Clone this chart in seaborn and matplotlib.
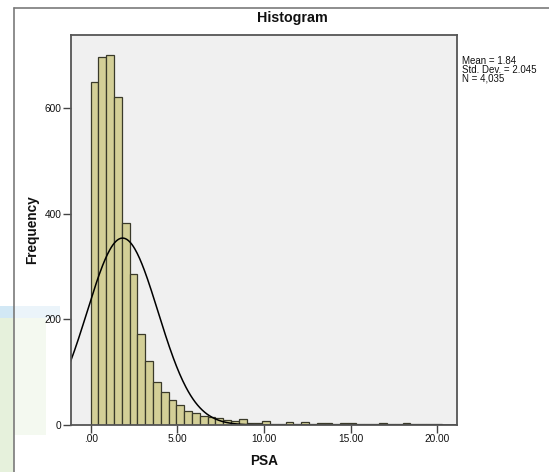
import numpy as np
import pandas as pd
import matplotlib
matplotlib.use("Agg")
import matplotlib.pyplot as plt
import seaborn as sns
from matplotlib.patches import Rectangle
from matplotlib.lines import Line2D

# ---- data ----
bin_start = 0.0
bin_width = 0.45
counts = [649, 697, 702, 621, 382, 287, 172, 122, 82, 63,
          47, 38, 27, 22, 18, 16, 14, 10, 8, 11,
          4, 3, 7, 2, 2, 5, 2, 5, 2, 3,
          3, 1, 4, 3, 1, 1, 1, 3, 1, 1,
          4, 1, 1, 1, 1]
mean_psa = 1.84
sd_psa = 2.045
n_psa = 4035
x_ticks = [0, 5, 10, 15, 20]
x_tick_labels = [".00", "5.00", "10.00", "15.00", "20.00"]
y_ticks = [0, 200, 400, 600]
stats_lines = ["Mean = 1.84", "Std. Dev. = 2.045", "N = 4,035"]

edges = [bin_start + bin_width * i for i in range(len(counts) + 1)]
centers = [(edges[i] + edges[i + 1]) / 2 for i in range(len(counts))]
df = pd.DataFrame({"PSA": centers, "count": counts})

sns.set_style("white")
plt.rcParams["font.family"] = ["Liberation Sans", "DejaVu Sans"]

W, H = 549, 472
fig = plt.figure(figsize=(W / 100, H / 100), dpi=100)
fig.patch.set_facecolor("white")

# faint watermark at left edge of screenshot
fig.patches.append(Rectangle((0, 1 - 472 / H), 14 / W, (472 - 318) / H, transform=fig.transFigure,
                             facecolor="#e6f1dc", edgecolor="none", zorder=-5))
fig.patches.append(Rectangle((0, 1 - 318 / H), 14 / W, 12 / H, transform=fig.transFigure,
                             facecolor="#d2e8f5", edgecolor="none", zorder=-5))
fig.patches.append(Rectangle((14 / W, 1 - 435 / H), 32 / W, (435 - 318) / H, transform=fig.transFigure,
                             facecolor="#f4f9f0", edgecolor="none", zorder=-5))
fig.patches.append(Rectangle((14 / W, 1 - 318 / H), 46 / W, 12 / H, transform=fig.transFigure,
                             facecolor="#ebf4fa", edgecolor="none", zorder=-5))

# outer chart frame
frame_col = "#7a7a7a"
fig.lines.append(Line2D([14 / W, 14 / W], [0, 1 - 8 / H], transform=fig.transFigure,
                        color=frame_col, lw=1.2))
fig.lines.append(Line2D([14 / W, 1], [1 - 8 / H, 1 - 8 / H], transform=fig.transFigure,
                        color=frame_col, lw=1.2))

ax = fig.add_axes([70.5 / W, 1 - 425 / H, (457 - 70.5) / W, (425 - 35) / H])
ax.set_facecolor("#f0f0f0")

sns.histplot(data=df, x="PSA", weights="count", bins=edges, ax=ax,
             color="#d3cf97", edgecolor="#3a3a2a", linewidth=0.9, alpha=1.0)

xs = np.linspace(-1.3, 21.3, 500)
ys = n_psa * bin_width / (sd_psa * np.sqrt(2 * np.pi)) * np.exp(-0.5 * ((xs - mean_psa) / sd_psa) ** 2)
sns.lineplot(x=xs, y=ys, ax=ax, color="black", linewidth=1.1)

ax.set_xlim(-1.165, 21.14)
ax.set_ylim(0, 739)
ax.set_xticks(x_ticks)
ax.set_xticklabels(x_tick_labels)
ax.set_yticks(y_ticks)
ax.tick_params(axis="both", which="major", bottom=True, left=True, direction="out",
               length=5.5, width=1, color="#444444",
               labelsize=7.3, pad=1.2, labelcolor="#111111")
for s in ax.spines.values():
    s.set_visible(True)
    s.set_color("#555555")
    s.set_linewidth(1.3)

ax.set_xlabel("PSA", fontsize=9.8, fontweight="bold", labelpad=7, color="#111111")
ax.set_ylabel("Frequency", fontsize=9.8, fontweight="bold", labelpad=4, color="#111111")

fig.text(292 / W, 1 - 18 / H, "Histogram", ha="center", va="center",
         fontsize=10.3, fontweight="bold", color="#111111")

fig.text(462.5 / W, 1 - 56 / H, "\n".join(stats_lines), ha="left", va="top",
         fontsize=7.0, color="#111111", linespacing=0.85)

fig.savefig("out.png", dpi=100)
